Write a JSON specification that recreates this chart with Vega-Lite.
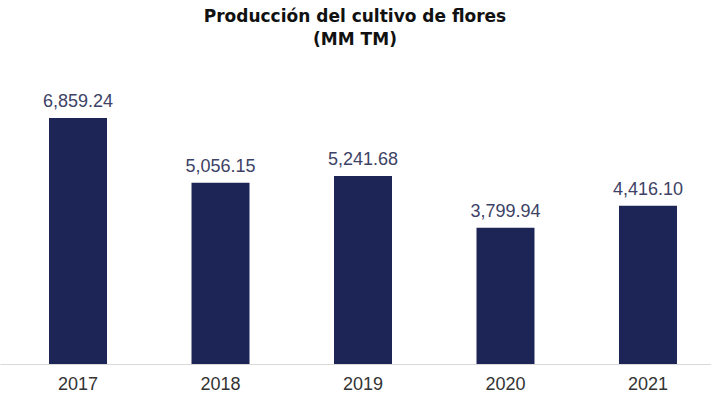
{
  "$schema": "https://vega.github.io/schema/vega-lite/v6.json",
  "autosize": "none",
  "width": 726,
  "height": 294,
  "padding": {"left": 0, "top": 70, "right": 0, "bottom": 38},
  "background": "white",
  "title": {
    "text": ["Producción del cultivo de flores", "(MM TM)"],
    "font": "DejaVu Sans",
    "fontSize": 17,
    "fontWeight": "bold",
    "color": "#111111",
    "anchor": "middle",
    "offset": 21,
    "lineHeight": 23,
    "dx": -8
  },
  "data": {
    "values": [
      {"year": "2017", "value": 6859.24},
      {"year": "2018", "value": 5056.15},
      {"year": "2019", "value": 5241.68},
      {"year": "2020", "value": 3799.94},
      {"year": "2021", "value": 4416.10}
    ]
  },
  "config": {"view": {"stroke": null}},
  "encoding": {
    "x": {
      "field": "year",
      "type": "nominal",
      "scale": {"paddingInner": 0.593, "paddingOuter": 0.344},
      "axis": {
        "title": null,
        "labelAngle": 0,
        "ticks": false,
        "labelFont": "Liberation Sans",
        "labelFontSize": 18,
        "labelColor": "#333333",
        "labelPadding": 11,
        "domainColor": "#d9d9d9",
        "domainWidth": 1
      }
    },
    "y": {
      "field": "value",
      "type": "quantitative",
      "scale": {"domain": [0, 8200], "nice": false},
      "axis": null
    }
  },
  "layer": [
    {"mark": {"type": "bar", "color": "#1d2456"}},
    {
      "mark": {
        "type": "text",
        "baseline": "bottom",
        "dy": -7,
        "font": "Liberation Sans",
        "fontSize": 18,
        "color": "#3d4266"
      },
      "encoding": {
        "text": {"field": "value", "type": "quantitative", "format": ",.2f"}
      }
    }
  ]
}
